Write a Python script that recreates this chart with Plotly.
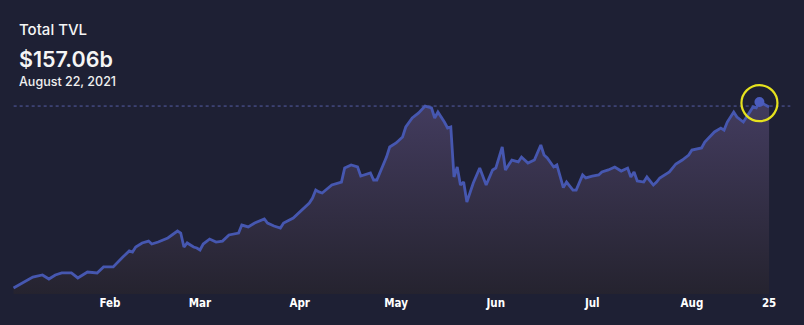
import plotly.graph_objects as go

# ---- data (TVL in billions USD) ----
dates = [
    "2021-01-02", "2021-01-08", "2021-01-11", "2021-01-13", "2021-01-15", "2021-01-17",
    "2021-01-20", "2021-01-22", "2021-01-25", "2021-01-28", "2021-01-30", "2021-02-02",
    "2021-02-05", "2021-02-07", "2021-02-08", "2021-02-09", "2021-02-11", "2021-02-13",
    "2021-02-14", "2021-02-16", "2021-02-19", "2021-02-21", "2021-02-22", "2021-02-23",
    "2021-02-24", "2021-02-25", "2021-02-27", "2021-02-28", "2021-03-01", "2021-03-02",
    "2021-03-04", "2021-03-06", "2021-03-08", "2021-03-10", "2021-03-13", "2021-03-14",
    "2021-03-16", "2021-03-18", "2021-03-21", "2021-03-22", "2021-03-24", "2021-03-26",
    "2021-03-27", "2021-03-30", "2021-04-01", "2021-04-04", "2021-04-05", "2021-04-06",
    "2021-04-07", "2021-04-08", "2021-04-11", "2021-04-14", "2021-04-15", "2021-04-17",
    "2021-04-19", "2021-04-20", "2021-04-23", "2021-04-24", "2021-04-25", "2021-04-28",
    "2021-04-29", "2021-05-01", "2021-05-03", "2021-05-04", "2021-05-06", "2021-05-08",
    "2021-05-10", "2021-05-12", "2021-05-13", "2021-05-14", "2021-05-16", "2021-05-17",
    "2021-05-18", "2021-05-19", "2021-05-20", "2021-05-21", "2021-05-22", "2021-05-23",
    "2021-05-25", "2021-05-27", "2021-05-29", "2021-05-31", "2021-06-01", "2021-06-03",
    "2021-06-04", "2021-06-06", "2021-06-08", "2021-06-09", "2021-06-11", "2021-06-13",
    "2021-06-15", "2021-06-16", "2021-06-17", "2021-06-19", "2021-06-20", "2021-06-22",
    "2021-06-23", "2021-06-25", "2021-06-26", "2021-06-28", "2021-06-29", "2021-07-01",
    "2021-07-03", "2021-07-04", "2021-07-06", "2021-07-08", "2021-07-10", "2021-07-12",
    "2021-07-13", "2021-07-14", "2021-07-15", "2021-07-17", "2021-07-18", "2021-07-20",
    "2021-07-21", "2021-07-22", "2021-07-25", "2021-07-27", "2021-07-29", "2021-07-31",
    "2021-08-01", "2021-08-04", "2021-08-05", "2021-08-07", "2021-08-08", "2021-08-10",
    "2021-08-11", "2021-08-12", "2021-08-14", "2021-08-15", "2021-08-17", "2021-08-18",
    "2021-08-20", "2021-08-21", "2021-08-22", "2021-08-23", "2021-08-25",
]
tvl = [
    20.0, 28.1, 29.6, 26.6, 29.6, 31.1,
    31.1, 27.4, 31.8, 31.1, 35.5, 35.5,
    42.8, 47.3, 46.5, 50.2, 53.2, 54.6,
    52.4, 53.9, 56.9, 60.5, 62.0, 60.5,
    50.2, 53.2, 50.2, 49.5, 48.0, 52.4,
    56.1, 53.9, 54.6, 59.1, 60.5, 66.4,
    65.0, 67.9, 70.9, 67.9, 65.7, 64.2,
    67.9, 71.6, 76.0, 82.6, 86.3, 92.2,
    90.8, 90.0, 95.9, 98.1, 108.4, 110.7,
    109.2, 102.5, 104.8, 99.6, 99.6, 116.5,
    123.9, 126.9, 131.3, 138.7, 145.3, 149.0,
    154.1, 152.7, 145.3, 149.7, 142.3, 137.9,
    138.7, 101.8, 109.2, 95.9, 98.1, 83.4,
    97.4, 108.4, 95.9, 107.0, 108.4, 123.9,
    107.0, 114.3, 112.9, 116.5, 112.1, 114.3,
    125.4, 118.0, 115.8, 109.2, 110.7, 94.0,
    98.1, 92.2, 92.2, 103.3, 101.1, 102.5,
    103.3, 105.5, 107.0, 109.2, 106.2, 108.4,
    101.8, 105.5, 98.9, 98.1, 101.8, 95.9,
    98.1, 101.1, 105.5, 111.4, 114.3, 118.0,
    121.7, 123.2, 127.6, 132.8, 135.0, 137.9,
    136.4, 142.3, 149.7, 146.0, 142.3, 146.0,
    153.4, 152.7, 157.06, 156.0, 153.4,
]

hover_date = "2021-08-22"
hover_value = 157.06
ref_line_value = 154.1

tick_vals = ["2021-02-01", "2021-03-01", "2021-04-01", "2021-05-01",
             "2021-06-01", "2021-07-01", "2021-08-01", "2021-08-25"]
tick_text = ["Feb", "Mar", "Apr", "May", "Jun", "Jul", "Aug", "25"]

BG = "#1e2034"
LINE = "#4657b0"

fig = go.Figure()

fig.add_trace(go.Scatter(
    x=dates, y=tvl, mode="lines",
    line=dict(color=LINE, width=2.8),
    fill="tozeroy",
    fillgradient=dict(type="vertical", start=15, stop=158,
                      colorscale=[[0, "#25232f"], [1, "#433c5f"]]),
    hoverinfo="skip", showlegend=False,
))

# hovered point
fig.add_trace(go.Scatter(
    x=[hover_date], y=[hover_value], mode="markers",
    marker=dict(size=10, color="#4b5cbd"),
    hoverinfo="skip", showlegend=False, cliponaxis=False,
))
# yellow highlight circle
fig.add_trace(go.Scatter(
    x=[hover_date], y=[hover_value - 0.8], mode="markers",
    marker=dict(symbol="circle-open", size=36, color="#e6e21e",
                line=dict(width=2.2, color="#e6e21e")),
    hoverinfo="skip", showlegend=False, cliponaxis=False,
))

fig.add_shape(type="line", xref="paper", yref="y",
              x0=0.017, x1=0.983, y0=ref_line_value, y1=ref_line_value,
              line=dict(color="rgba(105,115,205,0.75)", width=1, dash="3px,3px"),
              layer="below")

fig.add_annotation(text="Total TVL", xref="paper", yref="paper",
                   x=0.021, y=1.295, xanchor="left", yanchor="middle",
                   showarrow=False,
                   font=dict(family="Inter", size=15, color="#f5f5f5", weight=500))
fig.add_annotation(text="$157.06b", xref="paper", yref="paper",
                   x=0.021, y=1.152, xanchor="left", yanchor="middle",
                   showarrow=False,
                   font=dict(family="Inter", size=21.5, color="#f5f5f5", weight=600))
fig.add_annotation(text="August 22, 2021", xref="paper", yref="paper",
                   x=0.021, y=1.04, xanchor="left", yanchor="middle",
                   showarrow=False,
                   font=dict(family="Inter", size=12.5, color="#f0f0f0", weight=500))

fig.update_layout(
    width=804, height=325,
    margin=dict(l=0, r=0, t=90, b=31),
    paper_bgcolor=BG, plot_bgcolor=BG,
    xaxis=dict(
        type="date",
        range=["2020-12-28 19:00", "2021-09-04 20:38"],
        tickmode="array", tickvals=tick_vals, ticktext=tick_text,
        showgrid=False, zeroline=False, showline=False, ticks="",
        tickfont=dict(family="DejaVu Sans Condensed, Liberation Sans Narrow, sans-serif",
                      size=11.5, color="#ffffff", weight="bold"),
        fixedrange=True,
    ),
    yaxis=dict(
        range=[15.58, 165.93],
        showgrid=False, zeroline=False, showline=False,
        showticklabels=False, ticks="", fixedrange=True,
    ),
)

fig.write_html("out.html")
